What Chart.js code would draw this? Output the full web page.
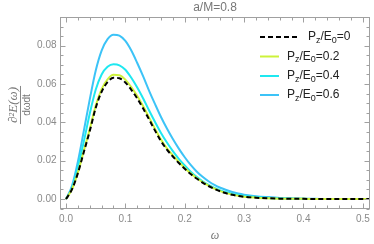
<!DOCTYPE html>
<html>
<head>
<meta charset="utf-8">
<script src="https://cdn.jsdelivr.net/npm/chart.js@4/dist/chart.umd.min.js"></script>
<style>
html,body{margin:0;padding:0;background:#fff;}
#wrap{width:374px;height:244px;}
</style>
</head>
<body>
<div id="wrap"><canvas id="c" width="374" height="244"></canvas></div>
<script>
// ---- data ----
const omega = [0,0.01,0.02,0.03,0.04,0.05,0.06,0.07,0.08,0.09,
  0.10,0.11,0.12,0.13,0.14,0.15,0.16,0.17,0.18,0.19,
  0.20,0.21,0.22,0.23,0.24,0.25,0.26,0.27,0.28,0.29,
  0.30,0.32,0.34,0.36,0.38,0.40,0.42,0.44,0.46,0.48,0.50,0.52];
const pz00 = [0,.0050,.0135,.0245,.0355,.0475,.0560,.0610,.0633,.0630,
  .0608,.0570,.0525,.0472,.0415,.0357,.0302,.0258,.0222,.0188,
  .0158,.0131,.0107,.0086,.0068,.0053,.0040,.0030,.0022,.0016,
  .0012,.0007,.0004,.0002,.0001,.0001,0,0,0,0,0,0];
const pz02 = [0,.0051,.0138,.0251,.0364,.0487,.0574,.0625,.0648,.0646,
  .0623,.0584,.0538,.0484,.0425,.0366,.0310,.0264,.0228,.0193,
  .0162,.0134,.0110,.0088,.0070,.0054,.0041,.0031,.0023,.0017,
  .0012,.0007,.0004,.0002,.0001,.0001,0,0,0,0,0,0];
const pz04 = [0,.0058,.0165,.0300,.0445,.0570,.0650,.0690,.0703,.0698,
  .0675,.0633,.0582,.0525,.0462,.0402,.0345,.0295,.0250,.0210,
  .0175,.0143,.0116,.0093,.0074,.0058,.0045,.0035,.0027,.0021,
  .0016,.0010,.0006,.0004,.0002,.0001,0,0,0,0,0,0];
const pz06 = [0,.0068,.0195,.0355,.0520,.0670,.0775,.0835,.0858,.0853,
  .0825,.0775,.0710,.0640,.0565,.0495,.0428,.0368,.0313,.0263,
  .0218,.0178,.0144,.0116,.0093,.0074,.0059,.0047,.0037,.0029,
  .0023,.0015,.0010,.0006,.0004,.0002,.0001,0,0,0,0,0];
const seriesNames = ["0","0.2","0.4","0.6"];
const xTickValues = [0,0.1,0.2,0.3,0.4,0.5];
const xTickLabels = ["0.0","0.1","0.2","0.3","0.4","0.5"];
const yTickValues = [0,0.02,0.04,0.06,0.08];
const yTickLabels = ["0.00","0.02","0.04","0.06","0.08"];
const titleText = "a/M=0.8";
const xLabel = "ω";

const colors = ["#000000","#cdf23a","#1ee8f0","#3cc3f7"];
const toPts = arr => omega.map((x,i)=>({x:x,y:arr[i]}));

const TICK_COL = "#8a8a8a";
const FRAME_COL = "#a0a0a0";

function drawSubText(ctx, x, y, parts, size){
  let cx = x;
  for (const [t, sub] of parts){
    ctx.font = (sub ? Math.round(size*0.72) : size) + "px 'Liberation Sans', Arial, sans-serif";
    ctx.fillText(t, cx, sub ? y + size*0.28 : y);
    cx += ctx.measureText(t).width;
  }
}

const framePlugin = {
  id: 'frame',
  afterDraw(chart){
    const ctx = chart.ctx, a = chart.chartArea;
    const xs = chart.scales.x, ys = chart.scales.y;
    ctx.save();
    ctx.strokeStyle = FRAME_COL; ctx.lineWidth = 1;
    const L = Math.round(a.left)+0.5, R = Math.round(a.right)-0.5, T = Math.round(a.top)+0.5, B = Math.round(a.bottom)-0.5;
    ctx.strokeRect(L, T, R-L, B-T);
    ctx.beginPath();
    for (let k=-1;k<=26;k++){
      const v = k*0.02; if (v < xs.min || v > xs.max) continue;
      const px = Math.round(xs.getPixelForValue(v))+0.5;
      const len = (k%5===0)?5:3;
      ctx.moveTo(px,B); ctx.lineTo(px,B-len);
      ctx.moveTo(px,T); ctx.lineTo(px,T+len);
    }
    for (let k=-2;k<=20;k++){
      const v = k*0.005; if (v < ys.min || v > ys.max) continue;
      const py = Math.round(ys.getPixelForValue(v))+0.5;
      const len = (k%4===0)?5:3;
      ctx.moveTo(L,py); ctx.lineTo(L+len,py);
      ctx.moveTo(R,py); ctx.lineTo(R-len,py);
    }
    ctx.stroke();
    ctx.fillStyle = TICK_COL;
    ctx.font = "10px 'Liberation Sans', Arial, sans-serif";
    ctx.textAlign = 'center'; ctx.textBaseline = 'middle';
    xTickValues.forEach((v,i)=>{
      ctx.fillText(xTickLabels[i], xs.getPixelForValue(v), B+11);
    });
    ctx.textAlign = 'right';
    yTickValues.forEach((v,i)=>{
      ctx.fillText(yTickLabels[i], L-4, ys.getPixelForValue(v));
    });
    ctx.textAlign = 'center';
    ctx.fillStyle = "#777";
    ctx.font = "12px 'Liberation Sans', Arial, sans-serif";
    ctx.fillText(titleText, (a.left+a.right)/2, 8);
    ctx.font = "italic 12px 'Liberation Serif', 'DejaVu Serif', serif";
    ctx.fillText(xLabel, (a.left+a.right)/2, 236);
    // y label (rotated fraction)
    ctx.save();
    ctx.translate(20, 105);
    ctx.rotate(-Math.PI/2);
    ctx.fillStyle = "#777";
    ctx.font = "italic 13px 'Liberation Serif', 'DejaVu Serif', serif";
    ctx.textAlign = 'center'; ctx.textBaseline = 'alphabetic';
    const num = "\u2202\u00b2E(ω)";
    ctx.fillText(num, 0, -3);
    const w = ctx.measureText(num).width;
    ctx.strokeStyle = "#888"; ctx.lineWidth = 1;
    ctx.beginPath(); ctx.moveTo(-w/2-1, 0.5); ctx.lineTo(w/2+1, 0.5); ctx.stroke();
    ctx.font = "10px 'Liberation Sans', Arial, sans-serif";
    ctx.textBaseline = 'top';
    ctx.fillText("dωdt", 0, 2);
    ctx.restore();
    // legend
    ctx.textAlign = 'left'; ctx.textBaseline = 'middle';
    ctx.fillStyle = "#222";
    const rows = [37, 56.5, 76, 95];
    rows.forEach((ry,i)=>{
      ctx.save();
      ctx.strokeStyle = colors[i]; ctx.lineWidth = 2;
      if (i===0) ctx.setLineDash([5,3]);
      ctx.beginPath();
      const x1 = 260, x2 = (i===0)?298:279;
      ctx.moveTo(x1, ry); ctx.lineTo(x2, ry); ctx.stroke();
      ctx.restore();
      const tx = (i===0)?308:287;
      drawSubText(ctx, tx, ry, [["P",false],["z",true],["/E",false],["0",true],["="+seriesNames[i],false]], 12);
    });
    ctx.restore();
  }
};

const mkDs = (arr, i, dash) => ({
  data: toPts(arr), borderColor: colors[i], borderWidth: 2,
  borderDash: dash || [], pointRadius: 0, fill: false,
  cubicInterpolationMode: 'monotone', clip: {left:0,right:0,top:0,bottom:0}
});

new Chart(document.getElementById('c'), {
  type: 'line',
  data: { datasets: [ mkDs(pz00,0,[5,3]), mkDs(pz02,1), mkDs(pz04,2), mkDs(pz06,3) ] },
  options: {
    responsive: false, animation: false, devicePixelRatio: 1,
    layout: { padding: { left: 60, right: 4, top: 17, bottom: 35 } },
    plugins: { legend: {display:false}, tooltip: {enabled:false}, title:{display:false} },
    scales: {
      x: { type: 'linear', min: -0.0101, max: 0.512, display: false },
      y: { type: 'linear', min: -0.0052, max: 0.095, display: false }
    }
  },
  plugins: [framePlugin]
});
</script>
</body>
</html>
